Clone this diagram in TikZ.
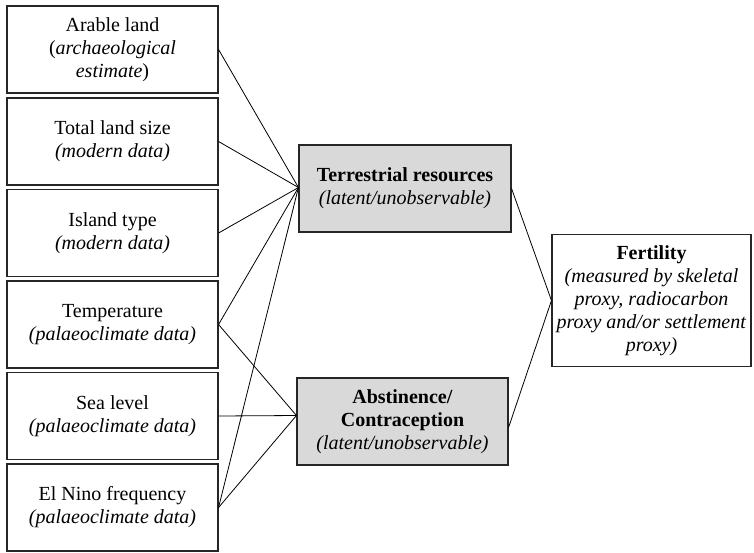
\documentclass[tikz,border=0pt]{standalone}
\usepackage{fontspec}
\setmainfont{Liberation Serif}
\usetikzlibrary{calc}
\tikzset{
  boxtext/.style={align=center, inner sep=2pt, font=\fontsize{20}{23}\selectfont},
  src/.style={boxtext, draw=black!85, line width=1.1pt, fill=white, minimum width=211pt, minimum height=87pt},
  latent/.style={boxtext, draw=black!85, line width=1.1pt, fill=black!15, minimum width=212pt, minimum height=87pt},
  outc/.style={boxtext, draw=black!85, line width=1.1pt, fill=white, minimum width=199pt, minimum height=132pt},
  link/.style={draw=black, line width=0.8pt}
}
\begin{document}
\begin{tikzpicture}[x=1pt,y=-1pt]
\useasboundingbox (0,0) rectangle (754,552);
\node[src] (arable) at (112.5,49.5) {Arable land\\(\textit{archaeological}\\\textit{estimate})};
\node[src] (total) at (112.5,141.5) {Total land size\\\textit{(modern data)}};
\node[src] (island) at (112.5,233) {Island type\\\textit{(modern data)}};
\node[src] (temp) at (112.5,324.5) {Temperature\\\textit{(palaeoclimate data)}};
\node[src] (sea) at (112.5,416) {Sea level\\\textit{(palaeoclimate data)}};
\node[src] (nino) at (112.5,507.5) {El Nino frequency\\\textit{(palaeoclimate data)}};
\node[latent] (terr) at (405,188.5) {\textbf{Terrestrial resources}\\\textit{(latent/unobservable)}};
\node[latent, minimum width=211pt] (abst) at (402.5,421.5) {\textbf{Abstinence/}\\\textbf{Contraception}\\\textit{(latent/unobservable)}};
\node[outc] (fert) at (651.5,300.5) {\textbf{Fertility}\\\textit{(measured by skeletal}\\\textit{proxy, radiocarbon}\\\textit{proxy and/or settlement}\\\textit{proxy)}};
\coordinate (tin) at ($(terr.west)+(0,-1)$);
\coordinate (ain) at ($(abst.west)+(0,-6)$);
\coordinate (aout) at ($(abst.east)+(0,6)$);
\draw[link] (arable.east) -- (tin);
\draw[link] (total.east) -- (tin);
\draw[link] (island.east) -- (tin);
\draw[link] (temp.east) -- (tin);
\draw[link] (nino.east) -- (tin);
\draw[link] (temp.east) -- (ain);
\draw[link] (sea.east) -- (ain);
\draw[link] (nino.east) -- (ain);
\draw[link] (terr.east) -- (fert.west);
\draw[link] (aout) -- (fert.west);
\end{tikzpicture}
\end{document}
